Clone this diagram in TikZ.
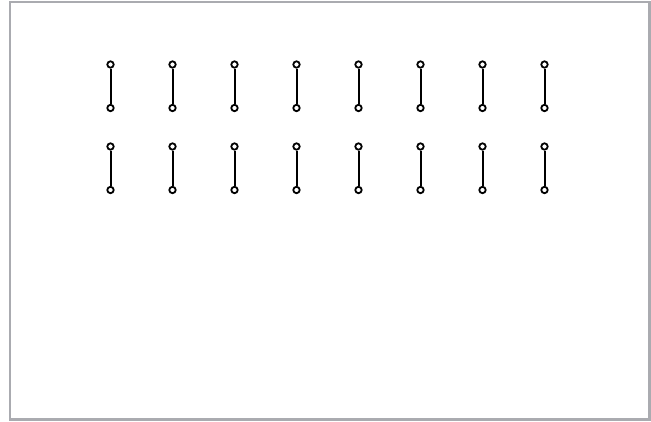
\documentclass[tikz,border=0pt]{standalone}
\usepackage{xcolor}
\usepackage{tikz}
\definecolor{framegray}{RGB}{170,171,176}

\begin{document}
\begin{tikzpicture}[
    x=1pt, y=-1pt,
    pin/.style={draw, circle, line width=1.8pt, inner sep=0pt, minimum size=6.4pt, fill=white},
    link/.style={line width=2pt},
    frame/.style={draw=framegray, line width=2.4pt}
]

\useasboundingbox (0,0) rectangle (651,421);
\draw[frame] (10,2) rectangle (649.5,419.5);

\foreach \c in {0,...,7} {
  \foreach \r/\ytop in {1/64.5, 2/146.5} {
    \node[pin] (t\r\c) at (110.5+62*\c, \ytop) {};
    \node[pin] (b\r\c) at (110.5+62*\c, \ytop+43.5) {};
    \draw[link] (t\r\c) -- (b\r\c);
  }
}

\end{tikzpicture}
\end{document}
